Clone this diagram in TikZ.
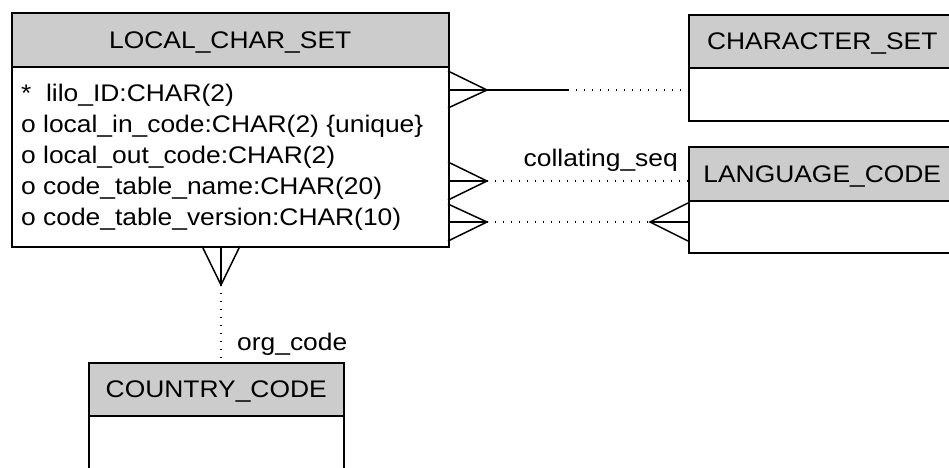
\documentclass[tikz,border=0pt]{standalone}
\usepackage{fontspec}
\setmainfont{Liberation Sans}[FakeStretch=1.1]
\definecolor{hdr}{RGB}{204,204,204}
\tikzset{
  ent/.style={draw=black, line width=1.5pt, rectangle, inner sep=0pt, anchor=north west},
  enthead/.style={ent, fill=hdr, text height=17.2pt, text depth=0pt},
  attr/.style={anchor=base west, inner sep=0pt},
  lbl/.style={inner sep=0pt},
  crow/.style={line width=1.5pt, line join=miter},
  rel/.style={line width=1.5pt},
  dotrel/.style={line width=1.3pt, dash pattern=on 1.3pt off 6.7pt},
}
\begin{document}
\begin{tikzpicture}[x=1pt,y=-1pt,font=\fontsize{24}{28}\selectfont]
\fill[white] (0,0) rectangle (949,467);
\useasboundingbox (0,0) rectangle (949,467);
\clip (0,0) rectangle (949,467);

% LOCAL_CHAR_SET
\node[enthead, minimum width=437pt, minimum height=54pt] (lcsH) at (11,12) {LOCAL\_CHAR\_SET};
\node[ent, minimum width=437pt, minimum height=180pt] (lcsB) at (11,66) {};
\node[attr] (a1) at (21,101) {*\ \ lilo\_ID:CHAR(2)};
\node[attr] (a2) at (21,132) {o local\_in\_code:CHAR(2) \{unique\}};
\node[attr] (a3) at (21,163) {o local\_out\_code:CHAR(2)};
\node[attr] (a4) at (21,194) {o code\_table\_name:CHAR(20)};
\node[attr] (a5) at (21,225) {o code\_table\_version:CHAR(10)};

% CHARACTER_SET
\node[enthead, minimum width=267pt, minimum height=53pt] (csH) at (688,14) {CHARACTER\_SET};
\node[ent, minimum width=267pt, minimum height=53pt] (csB) at (688,67) {};

% LANGUAGE_CODE
\node[enthead, minimum width=267pt, minimum height=54pt] (lcH) at (688,146) {LANGUAGE\_CODE};
\node[ent, minimum width=267pt, minimum height=52pt] (lcB) at (688,200) {};

% COUNTRY_CODE
\node[enthead, minimum width=255pt, minimum height=53pt] (ccH) at (88,362) {COUNTRY\_CODE};
\node[ent, minimum width=255pt, minimum height=70pt] (ccB) at (88,415) {};

% coordinates
\coordinate (r1a) at (448,71);  \coordinate (r1b) at (448,108);
\coordinate (r1m) at (448,90);  \coordinate (r1t) at (487,90);
\coordinate (r1s) at (568,90);  \coordinate (r1e) at (688,90);

\coordinate (r2a) at (448,162); \coordinate (r2b) at (448,200);
\coordinate (r2m) at (448,181); \coordinate (r2t) at (487,181);
\coordinate (r2e) at (688,181);

\coordinate (r3a) at (448,204); \coordinate (r3b) at (448,241);
\coordinate (r3m) at (448,222); \coordinate (r3t) at (487,222);
\coordinate (r3u) at (650,222);
\coordinate (r3c) at (688,203); \coordinate (r3d) at (688,241);
\coordinate (r3n) at (688,222);

\coordinate (r4a) at (202,246); \coordinate (r4b) at (240,246);
\coordinate (r4m) at (221,246); \coordinate (r4t) at (221,285);
\coordinate (r4e) at (221,362);

% relationship 1: LOCAL_CHAR_SET -- CHARACTER_SET
\draw[crow] (r1a) -- (r1t) -- (r1b);
\draw[rel] (r1m) -- (r1t) -- (r1s);
\draw[dotrel] (r1s) -- (r1e);

% relationship 2: collating_seq
\draw[crow] (r2a) -- (r2t) -- (r2b);
\draw[rel] (r2m) -- (r2t);
\draw[dotrel] (r2t) -- (r2e);
\node[lbl, anchor=base east] (l2) at (678,166) {collating\_seq};

% relationship 3: LOCAL_CHAR_SET >-- LANGUAGE_CODE (many-to-many)
\draw[crow] (r3a) -- (r3t) -- (r3b);
\draw[rel] (r3m) -- (r3t);
\draw[dotrel] (r3t) -- (r3u);
\draw[crow] (r3c) -- (r3u) -- (r3d);
\draw[rel] (r3u) -- (r3n);

% relationship 4: org_code
\draw[crow] (r4a) -- (r4t) -- (r4b);
\draw[rel] (r4m) -- (r4t);
\draw[dotrel] (r4t) -- (r4e);
\node[lbl, anchor=base west] (l4) at (237,350) {org\_code};
\end{tikzpicture}
\end{document}
